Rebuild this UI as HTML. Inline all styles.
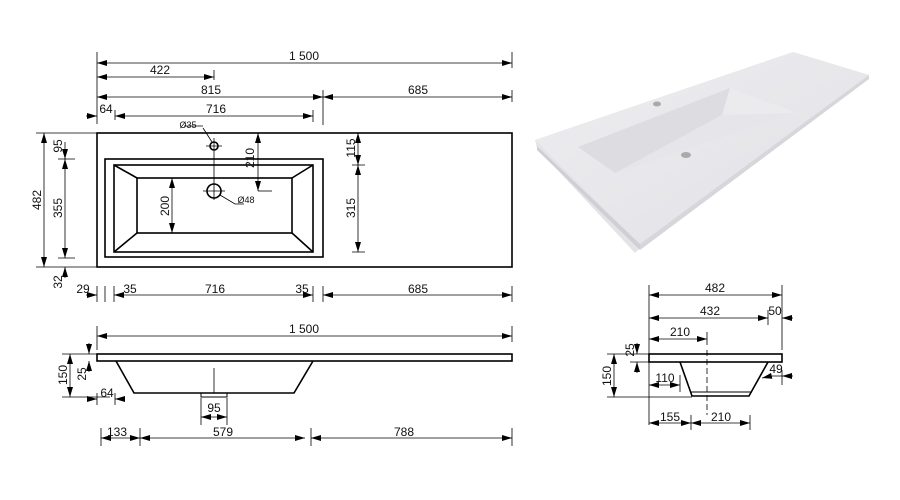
<!DOCTYPE html>
<html><head><meta charset="utf-8"><style>
html,body{margin:0;padding:0;background:#fff;}
svg{display:block;}
text{font-family:"Liberation Sans",sans-serif;font-size:12px;fill:#111;}
</style></head><body>
<svg width="900" height="500" viewBox="0 0 900 500" xmlns="http://www.w3.org/2000/svg">
<defs>
<marker id="a" viewBox="0 0 10 6" refX="10" refY="3" markerWidth="10" markerHeight="6" markerUnits="userSpaceOnUse" orient="auto-start-reverse"><path d="M0,0 L10,3 L0,6 z" fill="#000"/></marker>
<linearGradient id="g1" x1="0" y1="0" x2="1" y2="1"><stop offset="0" stop-color="#ededf0"/><stop offset="1" stop-color="#e2e2e6"/></linearGradient>
</defs>

<!-- 3D render -->
<g>
<polygon points="535,140 793,52 869,75 640,248 635,253 537,148" fill="#e4e4e8"/>
<polygon points="535,140 793,52 869,75 640,244" fill="url(#g1)"/>
<polygon points="537,146 640,244 640,250 537,150" fill="#cfcfd4"/>
<polygon points="640,244 869,75 869,79 640,250" fill="#d6d6db"/>
<polygon points="578,147 730,88 797,113 615,173" fill="#ebebee"/>
<polygon points="578,147 730,88 722,115 615,173" fill="#dcdce1"/>
<polygon points="615,173 722,115 797,113" fill="#e6e6ea"/>
<ellipse cx="657" cy="104" rx="4" ry="2.5" fill="#aaa"/>
<ellipse cx="686" cy="155" rx="5" ry="3" fill="#aaa"/>
</g>

<g stroke="#000" fill="none" stroke-width="1.6">
<!-- plan view -->
<rect x="97" y="133" width="415" height="134"/>
<rect x="105" y="159" width="218" height="98"/>
<rect x="114" y="165" width="199" height="87"/>
<rect x="137" y="178" width="155" height="55"/>
<path d="M114,165 L137,178 M313,165 L292,178 M114,252 L137,233 M313,252 L292,233"/>
<circle cx="214" cy="146" r="4"/>
<circle cx="214" cy="191" r="7"/>
<!-- section -->
<rect x="97" y="354" width="415" height="7"/>
<path d="M116,361 L134,393 L294,393 L313,361"/>
<rect x="201" y="393" width="26" height="4" stroke-width="1"/>
<!-- right section -->
<rect x="649" y="354" width="133" height="8"/>
<path d="M680,362 L692,396 L749,396 L768,362"/>
<path d="M690,392 L751,392" stroke-width="1"/>
</g>

<g stroke="#000" stroke-width="0.8" fill="none">
<path d="M206,146 H222 M214,138 V200 M203,191 H225"/>
<path d="M258,191 H272"/>
<path d="M203,128 L212,142 M184,126 H203 M220,195 L235,204 H244"/>
<path d="M97,52 V124 M512,52 V68 M512,90 V102 M214,70 V80 M323,90 V125 M115,110 V120 M313,110 V122"/>
<path d="M97,63 H512" marker-start="url(#a)" marker-end="url(#a)"/>
<path d="M97,77 H214" marker-start="url(#a)" marker-end="url(#a)"/>
<path d="M97,97 H323" marker-start="url(#a)" marker-end="url(#a)"/>
<path d="M323,97 H512" marker-start="url(#a)" marker-end="url(#a)"/>
<path d="M115,116 H313" marker-start="url(#a)" marker-end="url(#a)"/>
<path d="M86,116 H97" marker-end="url(#a)"/>
<path d="M36,133 H97 M36,267 H97 M58,159 H75 M58,258 H75"/>
<path d="M44,133 V267" marker-start="url(#a)" marker-end="url(#a)"/>
<path d="M65,159 V258" marker-start="url(#a)" marker-end="url(#a)"/>
<path d="M65,142 V159" marker-end="url(#a)"/>
<path d="M65,278 V267" marker-end="url(#a)"/>
<path d="M258,133 V191" marker-start="url(#a)" marker-end="url(#a)"/>
<path d="M352,165 H365 M352,252 H365"/>
<path d="M358,133 V165" marker-start="url(#a)" marker-end="url(#a)"/>
<path d="M358,165 V252" marker-start="url(#a)" marker-end="url(#a)"/>
<path d="M172,178 V233" marker-start="url(#a)" marker-end="url(#a)"/>
<path d="M97,286 V302 M105,286 V302 M114,286 V302 M313,286 V302 M323,286 V302 M512,286 V302"/>
<path d="M86,295 H97" marker-end="url(#a)"/>
<path d="M114,295 H313" marker-start="url(#a)" marker-end="url(#a)"/>
<path d="M323,295 H512" marker-start="url(#a)" marker-end="url(#a)"/>
<path d="M97,326 V350 M512,326 V342"/>
<path d="M97,336 H512" marker-start="url(#a)" marker-end="url(#a)"/>
<path d="M62,354 H97 M62,397 H110"/>
<path d="M70,354 V397" marker-start="url(#a)" marker-end="url(#a)"/>
<path d="M89,343 V354" marker-end="url(#a)"/>
<path d="M89,372 V361" marker-end="url(#a)"/>
<path d="M214,368 V393"/>
<path d="M97,393 V405 M115,393 V405 M201,398 V425 M227,398 V425"/>
<path d="M87,399 H97" marker-end="url(#a)"/>
<path d="M125,399 H115" marker-end="url(#a)"/>
<path d="M201,417 H227" marker-start="url(#a)" marker-end="url(#a)"/>
<path d="M101,428 V446 M140,428 V446 M311,428 V446 M512,428 V446"/>
<path d="M101,438 H140" marker-start="url(#a)" marker-end="url(#a)"/>
<path d="M140,438 H305" marker-start="url(#a)" marker-end="url(#a)"/>
<path d="M311,438 H512" marker-start="url(#a)" marker-end="url(#a)"/>
<path d="M649,285 V425 M782,285 V350 M768,310 V325 M707,332 V345"/>
<path d="M707,350 V415" stroke-dasharray="6,3"/>
<path d="M649,295 H782" marker-start="url(#a)" marker-end="url(#a)"/>
<path d="M649,318 H768" marker-start="url(#a)" marker-end="url(#a)"/>
<path d="M793,318 H782" marker-end="url(#a)"/>
<path d="M649,339 H707" marker-start="url(#a)" marker-end="url(#a)"/>
<path d="M607,354 H649 M607,397 H692 M630,362 H649"/>
<path d="M614,354 V397" marker-start="url(#a)" marker-end="url(#a)"/>
<path d="M637,343 V354" marker-end="url(#a)"/>
<path d="M637,373 V362" marker-end="url(#a)"/>
<path d="M680,375 V392"/>
<path d="M649,385 H680" marker-start="url(#a)" marker-end="url(#a)"/>
<path d="M782,370 V385"/>
<path d="M793,376 H782" marker-end="url(#a)"/>
<path d="M782,376 H771 L762,378" marker-end="url(#a)"/>
<path d="M691,415 V430 M750,415 V430"/>
<path d="M649,423 H691" marker-start="url(#a)" marker-end="url(#a)"/>
<path d="M691,423 H750" marker-start="url(#a)" marker-end="url(#a)"/>
</g>

<g>
<text x="304" y="60" text-anchor="middle">1 500</text>
<text x="160" y="74" text-anchor="middle">422</text>
<text x="211" y="94" text-anchor="middle">815</text>
<text x="418" y="94" text-anchor="middle">685</text>
<text x="106" y="113" text-anchor="middle">64</text>
<text x="216" y="113" text-anchor="middle">716</text>
<text x="188" y="128" text-anchor="middle" style="font-size:9px">Ø35</text>
<text x="246" y="203" text-anchor="middle" style="font-size:9px">Ø48</text>
<text transform="translate(41,200) rotate(-90)" text-anchor="middle">482</text>
<text transform="translate(62,208) rotate(-90)" text-anchor="middle">355</text>
<text transform="translate(62,146) rotate(-90)" text-anchor="middle">95</text>
<text transform="translate(62,282) rotate(-90)" text-anchor="middle">32</text>
<text transform="translate(254,158) rotate(-90)" text-anchor="middle">210</text>
<text transform="translate(355,148) rotate(-90)" text-anchor="middle">115</text>
<text transform="translate(355,208) rotate(-90)" text-anchor="middle">315</text>
<text transform="translate(169,206) rotate(-90)" text-anchor="middle">200</text>
<text x="83" y="293" text-anchor="middle">29</text>
<text x="130" y="293" text-anchor="middle">35</text>
<text x="215" y="293" text-anchor="middle">716</text>
<text x="302" y="293" text-anchor="middle">35</text>
<text x="418" y="293" text-anchor="middle">685</text>
<text x="304" y="333" text-anchor="middle">1 500</text>
<text transform="translate(67,375) rotate(-90)" text-anchor="middle">150</text>
<text transform="translate(86,374) rotate(-90)" text-anchor="middle">25</text>
<text x="107" y="397" text-anchor="middle">64</text>
<text x="214" y="412" text-anchor="middle">95</text>
<text x="117" y="436" text-anchor="middle">133</text>
<text x="223" y="436" text-anchor="middle">579</text>
<text x="404" y="436" text-anchor="middle">788</text>
<text x="715" y="292" text-anchor="middle">482</text>
<text x="710" y="315" text-anchor="middle">432</text>
<text x="775" y="315" text-anchor="middle">50</text>
<text x="680" y="336" text-anchor="middle">210</text>
<text transform="translate(611,376) rotate(-90)" text-anchor="middle">150</text>
<text transform="translate(634,350) rotate(-90)" text-anchor="middle">25</text>
<text x="665" y="382" text-anchor="middle">110</text>
<text x="776" y="373" text-anchor="middle">49</text>
<text x="670" y="421" text-anchor="middle">155</text>
<text x="721" y="421" text-anchor="middle">210</text>
</g>
</svg>
</body></html>
